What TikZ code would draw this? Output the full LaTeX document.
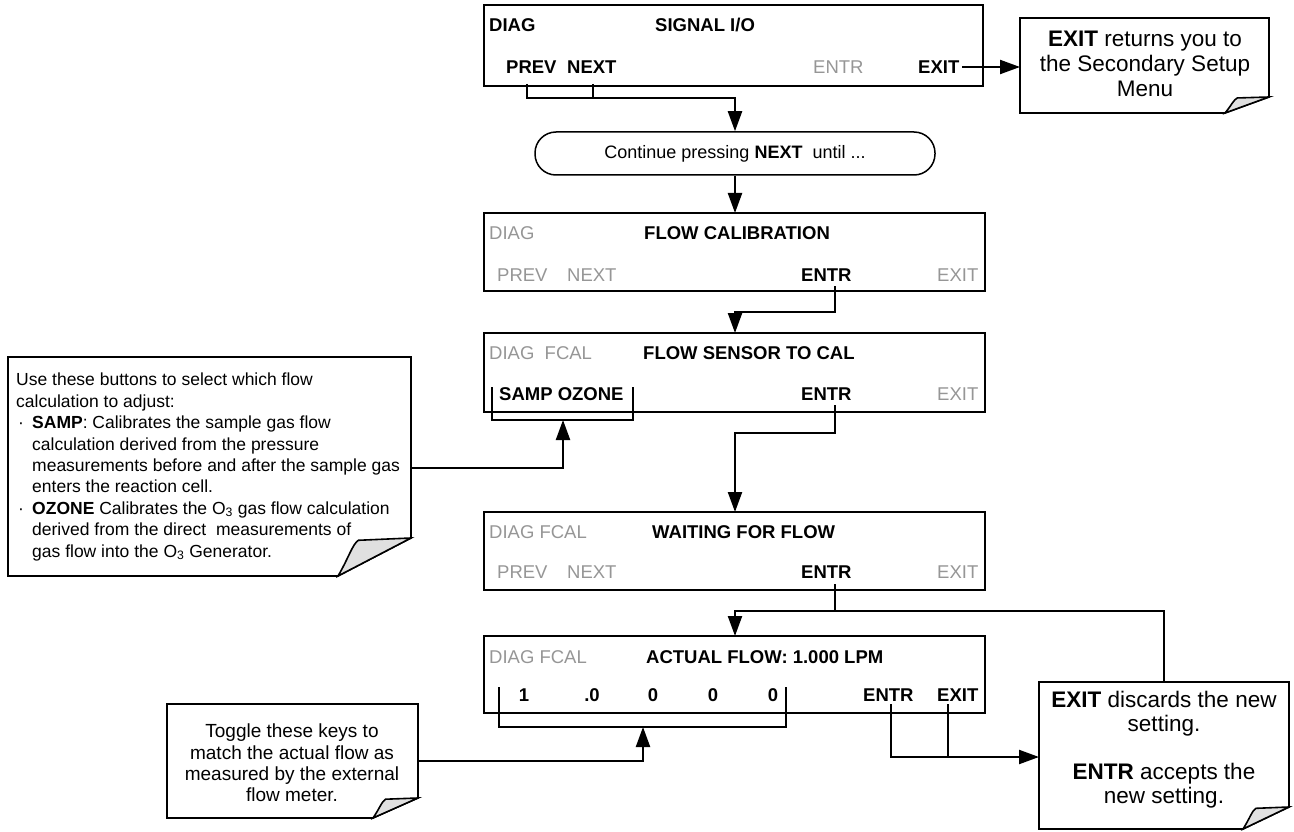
\documentclass[tikz,border=0pt]{standalone}
\usepackage{fontspec}
\setmainfont{Liberation Sans}
\usetikzlibrary{arrows.meta}
\definecolor{offgray}{RGB}{150,150,150}
\definecolor{foldgray}{RGB}{224,224,224}
\newcommand\mynote[6]{%
  \draw[notel,fill=white] (#1,#2) -- (#3,#2) -- (#3,#4-#6) -- (#3-#5,#4) -- (#1,#4) -- cycle;
  \draw[notel,fill=foldgray] (#3-#5,#4) .. controls (#3-0.86*#5,#4-0.45*#6) and (#3-0.8*#5,#4-0.85*#6) .. (#3-0.72*#5,#4-0.94*#6) -- (#3,#4-#6) -- cycle;
}
\begin{document}
\begin{tikzpicture}[x=1pt,y=-1pt,
  disp/.style={draw,line width=2pt,anchor=north west,inner sep=0pt,outer sep=0pt},
  lb/.style={anchor=base west,inner sep=0pt,font=\fontsize{18.5}{22}\selectfont},
  on/.style={lb,font=\fontsize{18.5}{22}\selectfont\bfseries},
  off/.style={lb,text=offgray},
  dig/.style={anchor=base,inner sep=0pt,font=\fontsize{18.5}{22}\selectfont\bfseries},
  conn/.style={line width=2.2pt},
  arr/.style={conn,-{Triangle[length=20pt,width=14pt]}},
  notel/.style={line width=1.6pt,line join=miter},
]
\fill[white] (0,0) rectangle (1294,832);
\useasboundingbox (0,0) rectangle (1294,832);

% ---------------- displays ----------------
\node[disp,minimum width=499pt,minimum height=81pt] (d1) at (484,5) {};
\node[on]  (d1diag) at (489,32) {DIAG};
\node[on]  (d1title) at (655,32) {SIGNAL I/O};
\node[on]  (d1prevt) at (506,74) {PREV};
\node[on]  (d1nextt) at (567,74) {NEXT};
\node[off] (d1entrt) at (813,74) {ENTR};
\node[on]  (d1exitt) at (918,74) {EXIT};

\node[disp,minimum width=501pt,minimum height=78pt] (d2) at (484,213) {};
\node[off] (d2diag) at (489,240) {DIAG};
\node[on]  (d2title) at (644,240) {FLOW CALIBRATION};
\node[off] (d2prevt) at (497,281) {PREV};
\node[off] (d2nextt) at (567,281) {NEXT};
\node[on]  (d2entrt) at (801,281) {ENTR};
\node[off] (d2exitt) at (937,281) {EXIT};

\node[disp,minimum width=501pt,minimum height=79pt] (d3) at (484,333) {};
\node[off] (d3diag) at (489,359) {DIAG\ \ FCAL};
\node[on]  (d3title) at (643,359) {FLOW SENSOR TO CAL};
\node[on]  (d3samp) at (499,400) {SAMP OZONE};
\node[on]  (d3entrt) at (801,400) {ENTR};
\node[off] (d3exitt) at (937,400) {EXIT};

\node[disp,minimum width=501pt,minimum height=78pt] (d4) at (484,512) {};
\node[off] (d4diag) at (489,538) {DIAG FCAL};
\node[on]  (d4title) at (652,538) {WAITING FOR FLOW};
\node[off] (d4prevt) at (497,578) {PREV};
\node[off] (d4nextt) at (567,578) {NEXT};
\node[on]  (d4entrt) at (801,578) {ENTR};
\node[off] (d4exitt) at (937,578) {EXIT};

\node[disp,minimum width=501pt,minimum height=77pt] (d5) at (484,636) {};
\node[off] (d5diag) at (489,663) {DIAG FCAL};
\node[on]  (d5title) at (646,663) {ACTUAL FLOW: 1.000 LPM};
\node[dig] (d5a) at (524,701) {1};
\node[dig] (d5b) at (592,701) {.0};
\node[dig] (d5c) at (653,701) {0};
\node[dig] (d5d) at (713,701) {0};
\node[dig] (d5e) at (773,701) {0};
\node[on]  (d5entrt) at (863,701) {ENTR};
\node[on]  (d5exitt) at (937,701) {EXIT};

% ---------------- rounded message ----------------
\node[draw,line width=1.5pt,rounded corners=21pt,minimum width=400pt,minimum height=43pt,inner sep=0pt,
      font=\fontsize{18}{20}\selectfont] (cont) at (735,153.5) {Continue pressing \textbf{NEXT}\ \ until ...};

% ---------------- notes ----------------
\mynote{1020}{18}{1269}{113}{44}{16}
\node[align=center,inner sep=0pt,font=\fontsize{22.5}{25}\selectfont] (n1) at (1145,64)
  {\textbf{EXIT} returns you to\\the Secondary Setup\\Menu};

\mynote{8}{357}{411}{576}{73}{38}
\node[anchor=north west,align=left,inner sep=0pt,font=\fontsize{17.5}{21.4}\selectfont] (n2) at (16,373)
  {Use these buttons to select which flow\\
   calculation to adjust:\\
   \makebox[16pt][l]{\hspace*{2pt}·}\textbf{SAMP}: Calibrates the sample gas flow\\
   \hspace*{16pt}calculation derived from the pressure\\
   \hspace*{16pt}measurements before and after the sample gas\\
   \hspace*{16pt}enters the reaction cell.\\
   \makebox[16pt][l]{\hspace*{2pt}·}\textbf{OZONE} Calibrates the O\textsubscript{3} gas flow calculation\\
   \hspace*{16pt}derived from the direct\ \ measurements of\\
   \hspace*{16pt}gas flow into the O\textsubscript{3} Generator.};

\mynote{167}{704}{418}{818}{45}{20}
\node[align=center,inner sep=0pt,font=\fontsize{19}{21.3}\selectfont] (n3) at (292,763)
  {Toggle these keys to\\match the actual flow as\\measured by the external\\flow meter.};

\mynote{1039}{682}{1289}{829}{46}{22}
\node[align=center,inner sep=0pt,font=\fontsize{22.5}{24}\selectfont] (n4) at (1164,750)
  {\textbf{EXIT} discards the new\\setting.\\[24pt]\textbf{ENTR} accepts the\\new setting.};

% ---------------- connector end points ----------------
\coordinate (b1prev) at (527,84);
\coordinate (b1next) at (593,84);
\coordinate (j1) at (735,98);
\coordinate (b1exit) at (962,67);
\coordinate (n1in) at (1020,67);
\coordinate (b2entr) at (835,286);
\coordinate (b3entr) at (835,405);
\coordinate (b4entr) at (835,584);
\coordinate (b5entr) at (891,704);
\coordinate (b5exit) at (948,704);
\coordinate (n4in) at (1039,757);
\coordinate (n4top) at (1164,682);
\coordinate (k3l) at (492,387);
\coordinate (k3r) at (633,387);
\coordinate (k5l) at (499,687);
\coordinate (k5r) at (786,687);
\coordinate (n2out) at (411,468);
\coordinate (n3out) at (418,761);

% ---------------- connectors ----------------
\draw[conn] (b1prev) |- (j1);
\draw[arr] (b1next) |- (j1) -- (cont.north);
\draw[arr] (b1exit) -- (n1in);
\draw[arr] (cont.south) -- (cont.south |- d2.north);
\draw[arr] (b2entr) |- (735,312) -- (735,333);
\draw[arr] (b3entr) |- (735,433) -- (735,512);
\draw[arr] (b4entr) |- (735,611) -- (735,636);
\draw[conn] (b4entr |- 0,611) -| (n4top);
\draw[conn] (k3l) |- (633,420) -- (k3r);
\draw[arr] (n2out) -| (563,420);
\draw[conn] (k5l) |- (786,727) -- (k5r);
\draw[arr] (n3out) -| (643,727);
\draw[conn] (b5exit) -- (948,757);
\draw[arr] (b5entr) |- (n4in);
\end{tikzpicture}
\end{document}
